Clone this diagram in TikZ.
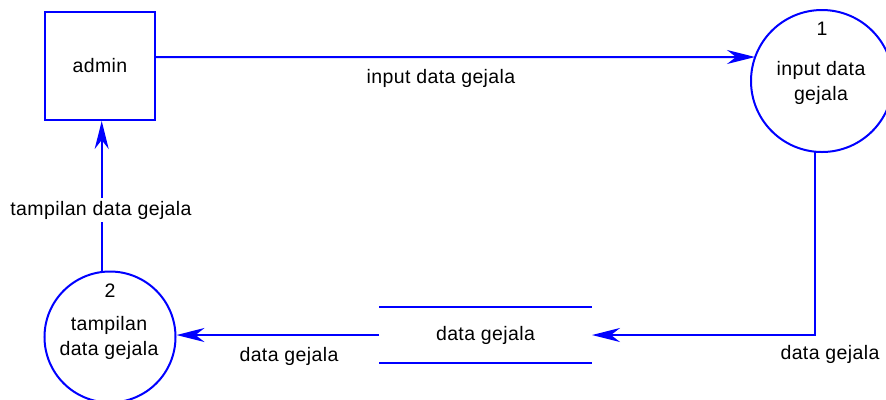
\documentclass[tikz,border=0pt]{standalone}
\usepackage{fontspec}
\setmainfont{Liberation Sans}[LetterSpace=2]
\usetikzlibrary{arrows.meta}
\begin{document}
\begin{tikzpicture}[x=1bp,y=-1bp, line width=2bp,
  every node/.style={font=\fontsize{19.5bp}{25bp}\selectfont, text=black, inner sep=0pt},
  flow/.style={draw=blue, -{Stealth[length=28bp,width=14bp,inset=9bp]}},
  entity/.style={draw=blue, minimum width=110bp, minimum height=108bp},
  proc/.style={draw=blue, circle},
  lbl/.style={fill=white, inner xsep=1bp, inner ysep=3bp}]
\useasboundingbox (0,0) rectangle (886,399);

% nodes
\node[entity] (admin) at (100,66) {admin};
\node[proc, minimum size=142bp] (p1) at (822,81) {};
\node (p1n) at (822,29) {1};
\node[align=center] (p1t) at (821,83) {input data\\gejala};
\node[proc, minimum size=131bp] (p2) at (110,337) {};
\node (p2n) at (110,291) {2};
\node[align=center] (p2t) at (109,338) {tampilan\\data gejala};
\node[minimum width=211bp, minimum height=54bp] (store) at (485.5,335) {data gejala};
\draw[blue] (store.north west) -- (store.north east);
\draw[blue] (store.south west) -- (store.south east);

% connectors
\coordinate (a1) at ([yshift=9bp]admin.east);
\coordinate (t1) at (755,57);
\draw[flow] (a1) -- (t1);
\coordinate (b2) at (101.7,272);
\draw[flow] (b2) -- (b2 |- admin.south);
\coordinate (c1) at (815,151.7);
\draw[flow] (c1) |- (store.east);
\draw[flow] (store.west) -- (store.west -| p2.east);

% labels
\node (l1) at (441,78) {input data gejala};
\node[lbl] (l2) at (101,210) {tampilan data gejala};
\node (l3) at (289,356) {data gejala};
\node (l4) at (830,354) {data gejala};
\end{tikzpicture}
\end{document}
